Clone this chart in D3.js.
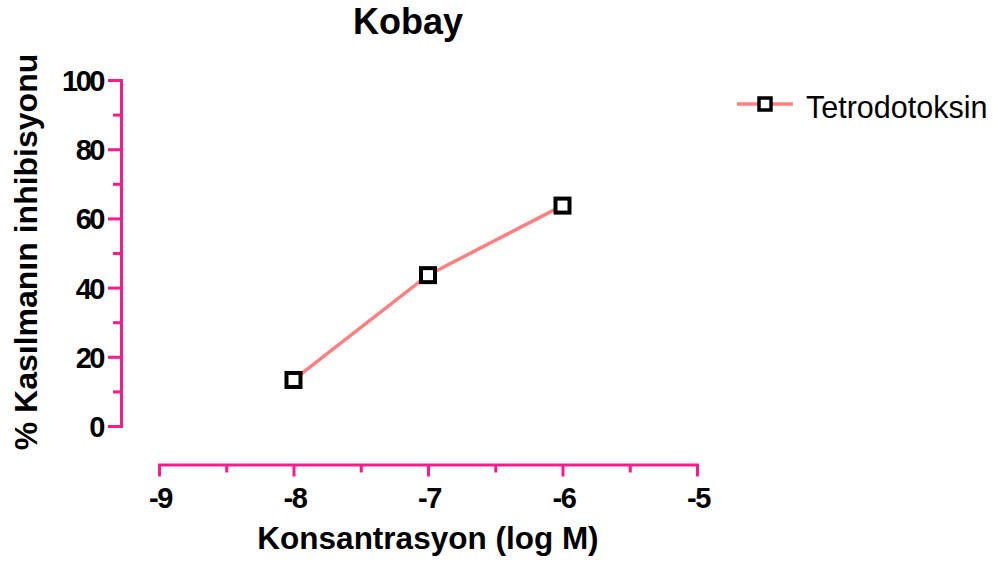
<!DOCTYPE html>
<html>
<head>
<meta charset="utf-8">
<script src="https://cdn.jsdelivr.net/npm/d3@7/dist/d3.min.js"></script>
<style>
  html, body { margin: 0; padding: 0; background: #fff; }
  svg { display: block; font-family: "Liberation Sans", Arial, sans-serif; }
</style>
</head>
<body>
<svg id="chart" width="994" height="566"></svg>
<script>
// ---- data ----
const seriesName = "Tetrodotoksin";
const xValues = [-8, -7, -6];
const yValues = [13.3, 43.6, 63.7];
const xTicks = [-9, -8, -7, -6, -5];
const xTickLabels = ["-9", "-8", "-7", "-6", "-5"];
const xMinorTicks = [-8.5, -7.5, -6.5, -5.5];
const yTicks = [0, 20, 40, 60, 80, 100];
const yTickLabels = ["0", "20", "40", "60", "80", "100"];
const yMinorTicks = [10, 30, 50, 70, 90];
const titleText = "Kobay";
const xLabelText = "Konsantrasyon (log M)";
const yLabelText = "% Kasılmanın inhibisyonu";

const axisColor = "#ff1a8c";
const lineColor = "#ff8080";

const svg = d3.select("#chart");

const x = d3.scaleLinear().domain([-9, -5]).range([159, 697]);
const y = d3.scaleLinear().domain([0, 100]).range([426, 80]);

const xAxisY = 464.5;
const yAxisX = 121;

// Y axis minor ticks
svg.append("g")
  .attr("transform", `translate(${yAxisX},0)`)
  .call(d3.axisLeft(y).tickValues(yMinorTicks).tickSize(8).tickSizeOuter(0).tickFormat(""))
  .call(g => g.select(".domain").remove())
  .call(g => g.selectAll("line").attr("stroke", axisColor).attr("stroke-width", 3));

// Y axis major
const yg = svg.append("g")
  .attr("transform", `translate(${yAxisX},0)`)
  .call(d3.axisLeft(y).tickValues(yTicks).tickSize(13).tickSizeOuter(0).tickPadding(5)
    .tickFormat((d, i) => yTickLabels[i]));
yg.select(".domain").attr("stroke", axisColor).attr("stroke-width", 3).attr("stroke-linecap", "square");
yg.selectAll("line").attr("stroke", axisColor).attr("stroke-width", 3);
yg.selectAll("text")
  .attr("fill", "#000")
  .style("font-size", "29px")
  .style("font-weight", "bold")
  .style("letter-spacing", "-2.5px")
  .attr("dy", "0.36em");

// X axis minor ticks
svg.append("g")
  .attr("transform", `translate(0,${xAxisY})`)
  .call(d3.axisBottom(x).tickValues(xMinorTicks).tickSize(8).tickSizeOuter(0).tickFormat(""))
  .call(g => g.select(".domain").remove())
  .call(g => g.selectAll("line").attr("stroke", axisColor).attr("stroke-width", 3));

// X axis major
const xg = svg.append("g")
  .attr("transform", `translate(0,${xAxisY})`)
  .call(d3.axisBottom(x).tickValues(xTicks).tickSize(12).tickSizeOuter(0).tickPadding(3)
    .tickFormat((d, i) => xTickLabels[i]));
xg.select(".domain").attr("stroke", axisColor).attr("stroke-width", 3).attr("stroke-linecap", "square");
xg.selectAll("line").attr("stroke", axisColor).attr("stroke-width", 3);
xg.selectAll("text")
  .attr("fill", "#000")
  .style("font-size", "29px")
  .style("font-weight", "bold")
  .style("letter-spacing", "-1.5px")
  .attr("y", 0)
  .attr("dy", 0)
  .attr("transform", "translate(1,43)");

// line
const pts = xValues.map((v, i) => [v, yValues[i]]);
svg.append("path")
  .datum(pts)
  .attr("fill", "none")
  .attr("stroke", lineColor)
  .attr("stroke-width", 3.5)
  .attr("d", d3.line().x(d => x(d[0])).y(d => y(d[1])));

// markers
const ms = 14;
svg.selectAll("rect.pt")
  .data(pts)
  .join("rect")
  .attr("class", "pt")
  .attr("x", d => x(d[0]) - ms / 2)
  .attr("y", d => y(d[1]) - ms / 2)
  .attr("width", ms)
  .attr("height", ms)
  .attr("fill", "#fff")
  .attr("stroke", "#000")
  .attr("stroke-width", 4);

// title
svg.append("text")
  .attr("x", 408).attr("y", 34)
  .attr("text-anchor", "middle")
  .style("font-size", "36px").style("font-weight", "bold")
  .text(titleText);

// x label
svg.append("text")
  .attr("x", 428).attr("y", 549)
  .attr("text-anchor", "middle")
  .style("font-size", "31.5px").style("font-weight", "bold")
  .text(xLabelText);

// y label
svg.append("text")
  .attr("transform", "translate(37,252) rotate(-90)")
  .attr("text-anchor", "middle")
  .style("font-size", "32px").style("font-weight", "bold")
  .text(yLabelText);

// legend
const lg = svg.append("g").attr("transform", "translate(0,104)");
lg.append("line").attr("x1", 737).attr("x2", 793).attr("y1", 0).attr("y2", 0)
  .attr("stroke", lineColor).attr("stroke-width", 3.5);
lg.append("rect").attr("x", 765 - 6).attr("y", -6).attr("width", 12).attr("height", 12)
  .attr("fill", "#fff").attr("stroke", "#000").attr("stroke-width", 3.5);
lg.append("text").attr("x", 806).attr("y", 14)
  .style("font-size", "30.5px")
  .text(seriesName);
</script>
</body>
</html>
